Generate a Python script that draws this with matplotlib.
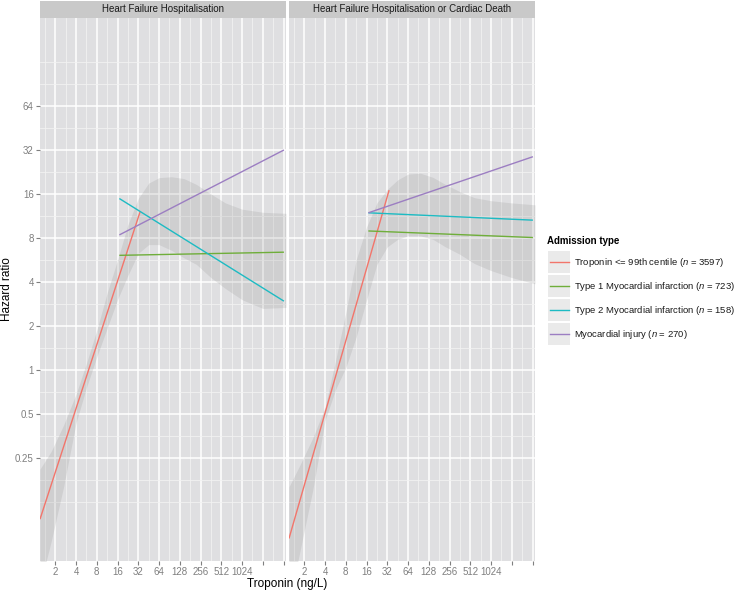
import numpy as np
import matplotlib.pyplot as plt
from matplotlib.ticker import FixedLocator, NullFormatter
from matplotlib.patches import Rectangle
from matplotlib.lines import Line2D

plt.rcParams['font.family'] = ['Liberation Sans', 'DejaVu Sans']
plt.rcParams['mathtext.fontset'] = 'custom'
plt.rcParams['mathtext.rm'] = 'Liberation Sans'
plt.rcParams['mathtext.it'] = 'Liberation Sans:italic'

# facets and groups
facets = ['Heart Failure Hospitalisation', 'Heart Failure Hospitalisation or Cardiac Death']
groups = [r'Troponin <= 99th centile ($n$ = 3597)',
          r'Type 1 Myocardial infarction ($n$ = 723)',
          r'Type 2 Myocardial infarction ($n$ = 158)',
          r'Myocardial injury ($n$ = 270)']
colors = ['#F2756B', '#6FAE3A', '#1DBBC3', '#9C7EC2']

# fitted lines: troponin start/end (ng/L) and hazard ratio at those ends
line_trop = [[1.2, 34], [17, 4150], [17, 4150], [17, 4150]]
line_hr_hf = [[0.0954, 12.1], [6.09, 6.4], [14.9, 2.96], [8.4, 32.0]]
line_hr_hfcd = [[0.0704, 17.0], [8.94, 8.06], [11.9, 10.6], [11.9, 28.8]]

# spline confidence band
band_trop = [1.2, 1.74, 2.64, 4, 5.66, 8, 11.3, 16, 22.6, 32, 45.3, 64,
             97, 147, 223, 362, 588, 1024, 2048, 4450]
band_lo_hf = [0.0335, 0.067, 0.159, 0.435, 0.758, 1.23, 1.93, 3.03, 4.44, 6.28,
              7.21, 7.21, 6.59, 5.86, 5.28, 4.29, 3.61, 3.03, 2.64, 2.68]
band_hi_hf = [0.21, 0.277, 0.42, 0.683, 1.11, 1.87, 3.36, 5.66, 9.85, 14.9,
              19.0, 20.7, 21.0, 20.4, 18.6, 16.0, 13.9, 12.6, 12.0, 11.8]
band_lo_hfcd = [0.0254, 0.0583, 0.149, 0.451, 0.732, 1.04, 1.68, 3.01, 5.28, 6.96,
                7.84, 8.28, 8.28, 7.84, 6.96, 6.19, 5.35, 4.79, 4.29, 3.89]
band_hi_hfcd = [0.159, 0.225, 0.341, 0.555, 1.15, 2.46, 5.66, 9.51, 13.9, 17.2,
                20.0, 21.9, 22.2, 20.8, 18.6, 16.6, 15.1, 14.4, 13.9, 13.5]

x_ticks = [2, 4, 8, 16, 32, 64, 128, 256, 512, 1024, 2048, 4096]
x_labels = ['2', '4', '8', '16', '32', '64', '128', '256', '512', '1024', '', '']
y_ticks = [0.25, 0.5, 1, 2, 4, 8, 16, 32, 64]
y_labels = ['0.25', '0.5', '1', '2', '4', '8', '16', '32', '64']

W, H = 740, 590
fig = plt.figure(figsize=(W / 100, H / 100), dpi=100)


def px_axes(x0, y0, x1, y1):
    return fig.add_axes([x0 / W, 1 - y1 / H, (x1 - x0) / W, (y1 - y0) / H])


panel_bg = '#DFDFE1'
strip_bg = '#C9C9C9'
tick_col = '#7F7F7F'

panels = [(40, 286), (289, 535)]
line_hrs = [line_hr_hf, line_hr_hfcd]
bands = [(band_lo_hf, band_hi_hf), (band_lo_hfcd, band_hi_hfcd)]

for i, (x0, x1) in enumerate(panels):
    ax = px_axes(x0, 18, x1, 561)
    ax.set_facecolor(panel_bg)
    ax.set_xscale('log', base=2)
    ax.set_yscale('log', base=2)
    ax.set_xlim(1.2, 4450)
    ax.set_ylim(2 ** -4.34, 256)
    for s in ax.spines.values():
        s.set_visible(False)

    ax.xaxis.set_major_locator(FixedLocator(x_ticks))
    ax.set_xticklabels(x_labels)
    ax.xaxis.set_minor_locator(FixedLocator(2 ** np.arange(0.5, 12.2, 1.0)))
    ax.xaxis.set_minor_formatter(NullFormatter())
    ax.yaxis.set_major_locator(FixedLocator(y_ticks))
    ax.yaxis.set_minor_locator(FixedLocator(2 ** np.array([-3, -2.5, -1.5, -0.5, 0.5, 1.5, 2.5,
                                                            3.5, 4.5, 5.5, 6.5, 7])))
    ax.yaxis.set_minor_formatter(NullFormatter())
    if i == 0:
        ax.set_yticklabels(y_labels)
        ax.tick_params(axis='y', which='major', length=3, width=0.8, color=tick_col,
                       labelcolor=tick_col, labelsize=7, pad=1.5)
    else:
        ax.tick_params(axis='y', which='major', length=0, labelleft=False)
    ax.tick_params(axis='x', which='major', length=3, width=0.8, color=tick_col,
                   labelcolor=tick_col, labelsize=7, pad=1.5)
    ax.tick_params(which='minor', length=0)

    ax.grid(which='major', color='white', lw=1.1)
    ax.grid(which='minor', color='#F3F3F3', lw=0.55)
    ax.set_axisbelow(True)

    lo, hi = bands[i]
    ax.fill_between(band_trop, lo, hi, color='#8F8F8F', alpha=0.2, lw=0, zorder=2)
    for g in range(len(groups)):
        ax.plot(line_trop[g], line_hrs[i][g], color=colors[g], lw=1.0, zorder=3,
                solid_capstyle='butt')

    st = px_axes(x0, 0.5, x1, 17.5)
    st.set_facecolor(strip_bg)
    st.set_xticks([])
    st.set_yticks([])
    for s in st.spines.values():
        s.set_visible(False)
    st.text(0.5, 0.48, facets[i], ha='center', va='center', fontsize=7,
            color='#1A1A1A', transform=st.transAxes)

fig.text(287.5 / W, 1 - 583.5 / H, 'Troponin (ng/L)', ha='center', va='center', fontsize=8.5)
fig.text(7.5 / W, 1 - 289.5 / H, 'Hazard ratio', ha='center', va='center',
         rotation=90, fontsize=8.5)

# legend
lg = fig.add_axes([0, 0, 1, 1])
lg.set_xlim(0, W)
lg.set_ylim(H, 0)
lg.axis('off')
lg.patch.set_visible(False)
lg.text(547, 240.5, 'Admission type', ha='left', va='center', fontsize=7.0,
        fontweight='bold')
for g in range(len(groups)):
    yc = 262.3 + 24 * g
    lg.add_patch(Rectangle((548, yc - 11), 22, 22, facecolor='#EAEAEA', edgecolor='none'))
    lg.add_line(Line2D([550, 568.5], [yc, yc], color=colors[g], lw=1.0))
    lg.text(573.5, yc, groups[g], ha='left', va='center', fontsize=6.8, color='#1A1A1A')

fig.savefig('out.png', dpi=100)
